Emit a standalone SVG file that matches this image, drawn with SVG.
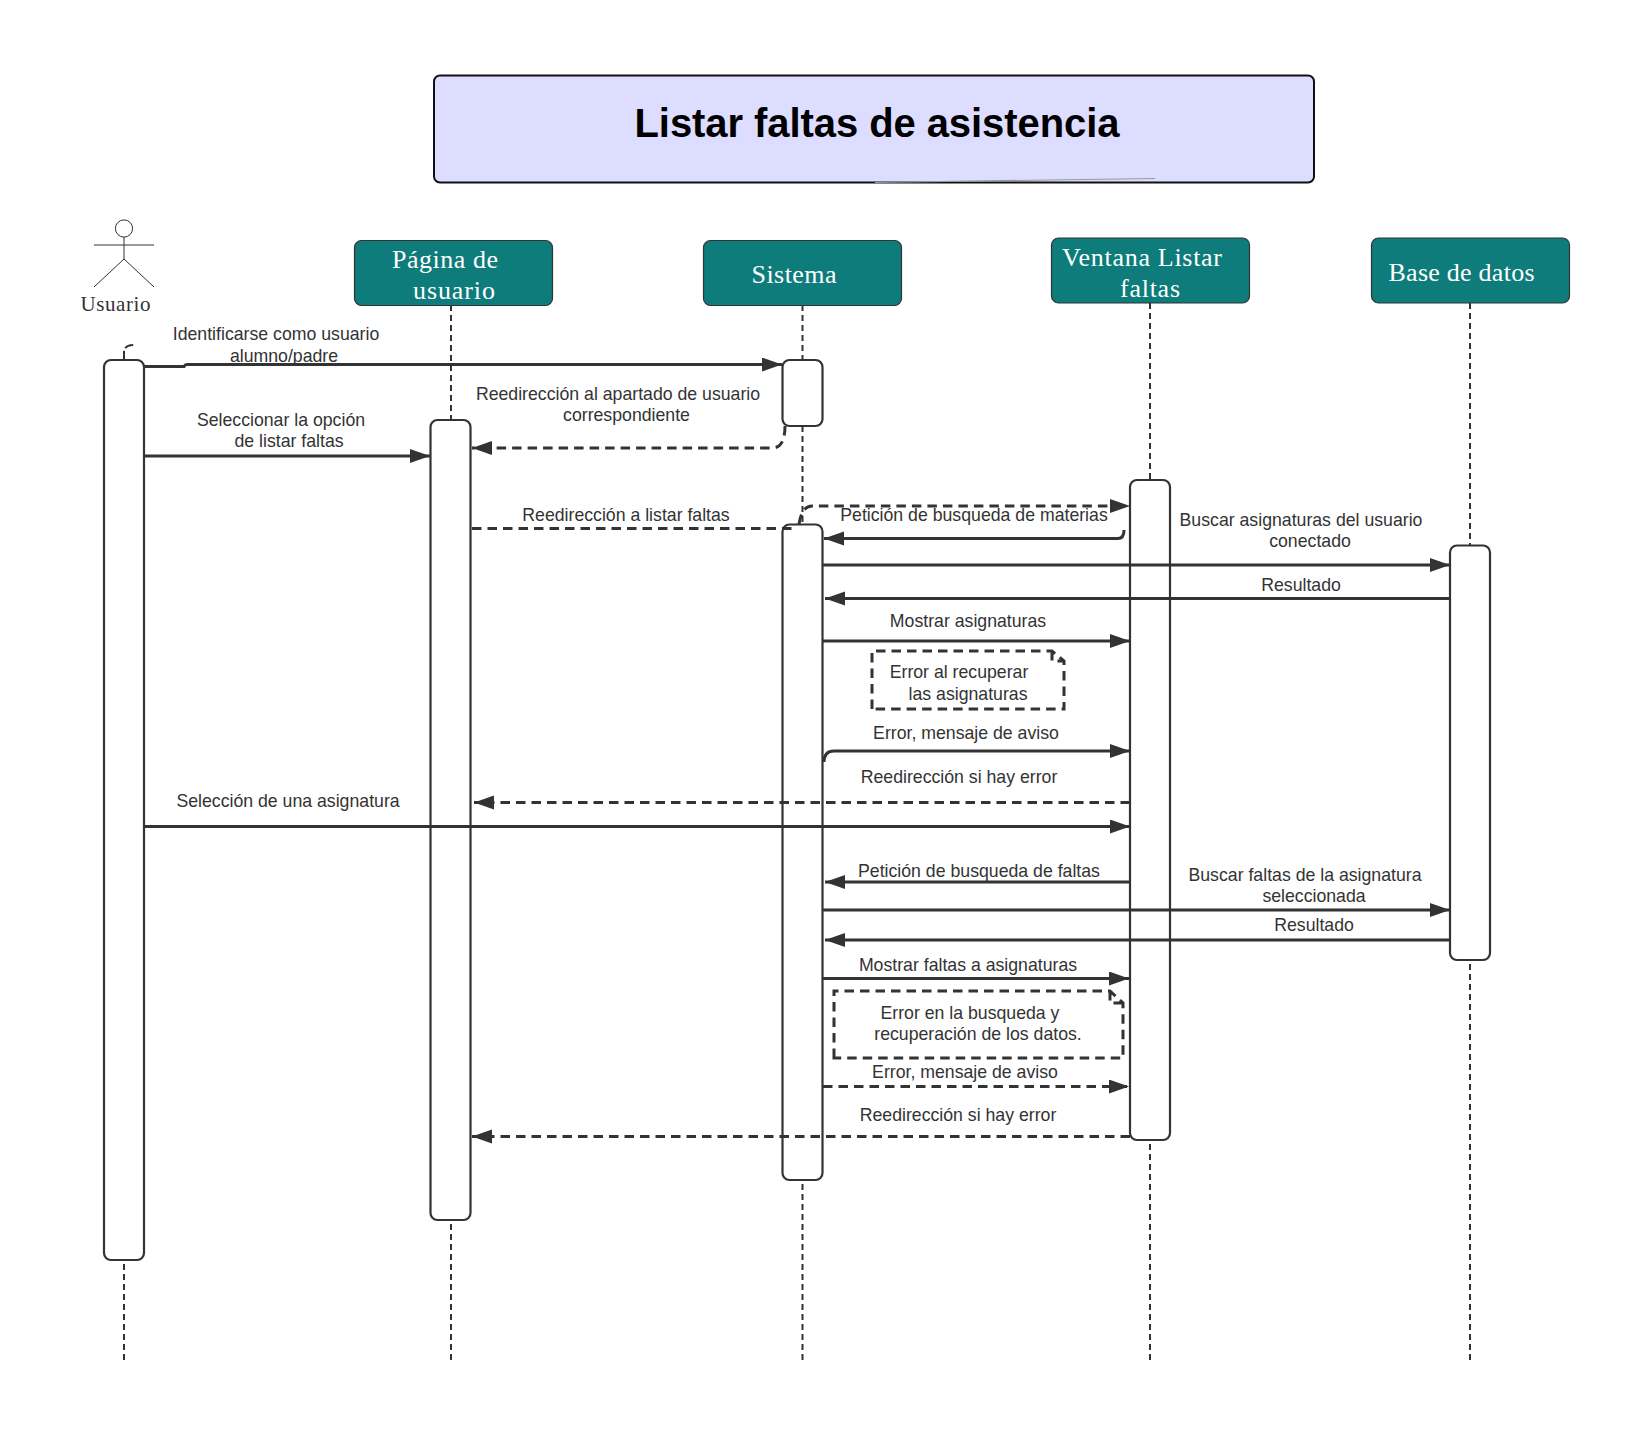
<svg xmlns="http://www.w3.org/2000/svg" width="1625" height="1450" viewBox="0 0 1625 1450">
<style>
.hdr{fill:#0e7c7b;stroke:#333;stroke-width:1.2}
.act{fill:#fff;stroke:#333;stroke-width:2.2}
.life{fill:none;stroke:#333;stroke-width:2;stroke-dasharray:6 4}
.msg{fill:none;stroke:#333;stroke-width:3}
.dash{stroke-dasharray:9.5 6}
.arr{marker-end:url(#ah)}
.note{fill:none;stroke:#333;stroke-width:3;stroke-dasharray:9.5 6}
text{font-family:"Liberation Sans",Arial,sans-serif;font-size:17.7px;fill:#333;text-anchor:middle}
.h{font-family:"Liberation Serif","DejaVu Serif",serif;font-size:26px;fill:#fff}
.act-l{font-family:"Liberation Serif","DejaVu Serif",serif;font-size:21px;fill:#333}
.t{font-size:40px;font-weight:bold;fill:#000}
</style>
<defs>
<marker id="ah" markerUnits="userSpaceOnUse" markerWidth="22" markerHeight="16" refX="20" refY="7" orient="auto"><path d="M0 0L20 7L0 14Z" fill="#333"/></marker>
</defs>
<rect width="1625" height="1450" fill="#fff"/>
<g id="lifelines">
<path class="life" d="M451 305V420M451 1360V1220"/>
<path class="life" d="M802.500 305V360M802.500 426V524M802.500 1360V1180"/>
<path class="life" d="M1150 303V480M1150 1360V1140"/>
<path class="life" d="M1470 303V545M1470 1360V960"/>
<path class="life" d="M124 1360V1260"/>
</g>
<g id="title">
<rect x="434" y="75.500" width="880" height="107" rx="6" fill="#ddf" stroke="#111" stroke-width="2"/>
<path d="M875 182.500L1155 178.500" stroke="#999" stroke-width="1.200" fill="none"/>
<text class="t" x="877" y="137" textLength="485" lengthAdjust="spacing">Listar faltas de asistencia</text>
</g>
<g id="actor-usuario" fill="none" stroke="#333" stroke-width="1">
<circle cx="124" cy="228.500" r="8.600" fill="#fff"/>
<path d="M94 245H154M124 237V259L94 287M124 259L154 287"/>
<text class="act-l" x="115.500" y="311" stroke="none" textLength="70" lengthAdjust="spacing">Usuario</text>
</g>
<g id="node-pagina">
<rect class="hdr" x="354.500" y="240.500" width="198" height="65" rx="7"/>
<text class="h" x="445" y="268" textLength="106" lengthAdjust="spacing">Página de</text>
<text class="h" x="454" y="299" textLength="82" lengthAdjust="spacing">usuario</text>
</g>
<g id="node-sistema">
<rect class="hdr" x="703.500" y="240.500" width="198" height="65" rx="7"/>
<text class="h" x="794" y="283" textLength="85" lengthAdjust="spacing">Sistema</text>
</g>
<g id="node-ventana">
<rect class="hdr" x="1051.500" y="238" width="198" height="65" rx="7"/>
<text class="h" x="1142" y="266" textLength="160" lengthAdjust="spacing">Ventana Listar</text>
<text class="h" x="1150" y="297" textLength="60" lengthAdjust="spacing">faltas</text>
</g>
<g id="node-base">
<rect class="hdr" x="1371.500" y="238" width="198" height="65" rx="7"/>
<text class="h" x="1461.500" y="281" textLength="146" lengthAdjust="spacing">Base de datos</text>
</g>
<g id="activations">
<path d="M124 360V352Q124 345 135 345" fill="none" stroke="#333" stroke-width="2" stroke-dasharray="9 3"/>
<rect class="act" x="104" y="360" width="40" height="900" rx="7"/>
<rect class="act" x="430.500" y="420" width="40" height="800" rx="7"/>
<rect class="act" x="782.500" y="360" width="40" height="66" rx="7"/>
<rect class="act" x="782.500" y="524.500" width="40" height="655.500" rx="7"/>
<rect class="act" x="1130" y="480" width="40" height="660" rx="7"/>
<rect class="act" x="1450" y="545.500" width="40" height="414.500" rx="7"/>
</g>
<g id="labels">
<text x="276" y="340">Identificarse como usuario</text>
<text x="284" y="361.500">alumno/padre</text>
<text x="281" y="425.500">Seleccionar la opción</text>
<text x="289" y="447">de listar faltas</text>
<text x="618" y="399.500">Reedirección al apartado de usuario</text>
<text x="626.500" y="420.500">correspondiente</text>
<text x="626" y="521">Reedirección a listar faltas</text>
<text x="974" y="521">Petición de busqueda de materias</text>
<text x="1301" y="525.500">Buscar asignaturas del usuario</text>
<text x="1310" y="546.500">conectado</text>
<text x="1301" y="591">Resultado</text>
<text x="968" y="626.500">Mostrar asignaturas</text>
<text x="959" y="678">Error al recuperar</text>
<text x="968" y="699.500">las asignaturas</text>
<text x="966" y="739">Error, mensaje de aviso</text>
<text x="959" y="783">Reedirección si hay error</text>
<text x="288" y="806.500">Selección de una asignatura</text>
<text x="979" y="876.500">Petición de busqueda de faltas</text>
<text x="1305" y="880.500">Buscar faltas de la asignatura</text>
<text x="1314" y="901.500">seleccionada</text>
<text x="1314" y="931">Resultado</text>
<text x="968" y="971">Mostrar faltas a asignaturas</text>
<text x="970" y="1018.500">Error en la busqueda y</text>
<text x="978" y="1040">recuperación de los datos.</text>
<text x="965" y="1077.500">Error, mensaje de aviso</text>
<text x="958" y="1121">Reedirección si hay error</text>
</g>
<g id="notes">
<path class="note" d="M872 709V651H1052L1064 661V709ZM1052 651V661H1064"/>
<path class="note" d="M834 1058V991H1110L1123 1003V1058ZM1110 991V1003H1123"/>
</g>
<g id="connectors">
<path class="msg arr" d="M144 366.500H184Q185 364.500 187 364.500H782"/>
<path class="msg dash arr" d="M785 426Q785 448 772 448H472"/>
<path class="msg arr" d="M144 456H430"/>
<path class="msg dash" d="M472 528.500H795"/>
<path class="msg dash arr" d="M799 524Q802 506 812 506H1130"/>
<path class="msg arr" d="M1124 530Q1124 538.500 1118 538.500H824"/>
<path class="msg arr" d="M823 565H1450"/>
<path class="msg arr" d="M1450 598.500H825"/>
<path class="msg arr" d="M823 641H1130"/>
<path class="msg arr" d="M824 762Q824 751 834 751H1130"/>
<path class="msg dash arr" d="M1130 802.500H474"/>
<path class="msg arr" d="M144 826.500H1130"/>
<path class="msg arr" d="M1130 882H825"/>
<path class="msg arr" d="M823 910H1450"/>
<path class="msg arr" d="M1450 940H825"/>
<path class="msg arr" d="M823 978.500H1129"/>
<path class="msg dash arr" d="M823 1086.500H1129"/>
<path class="msg dash arr" d="M1130 1136.500H472"/>
</g>
</svg>
